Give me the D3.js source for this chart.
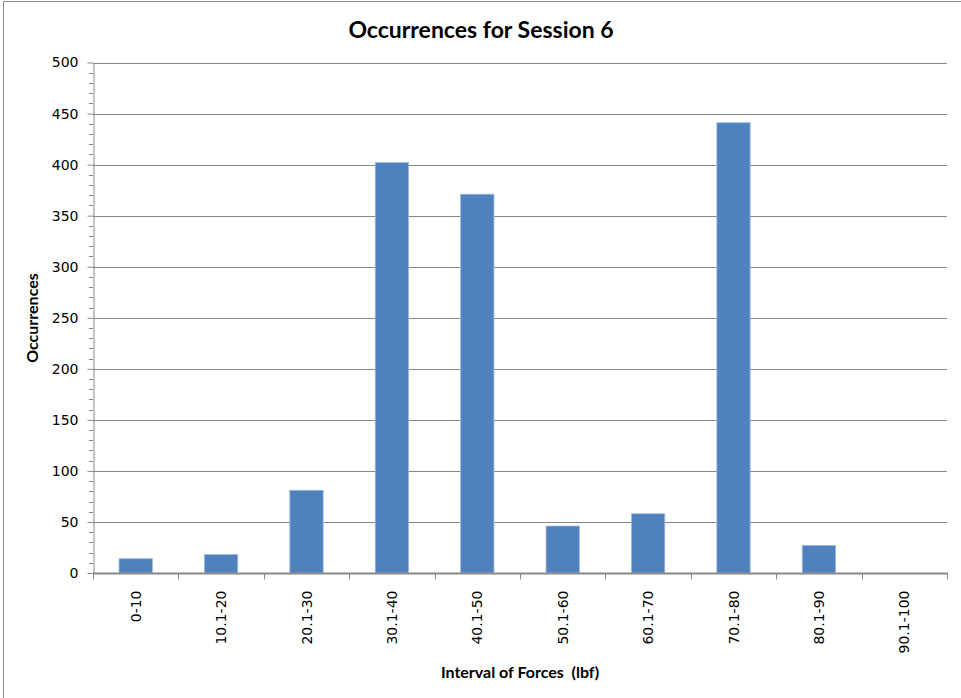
<!DOCTYPE html>
<html><head><meta charset="utf-8">
<script src="https://cdn.jsdelivr.net/npm/d3@7"></script>
<style>body{margin:0;background:#fff}svg{display:block}</style>
</head><body>
<script>
const categories = ["0-10","10.1-20","20.1-30","30.1-40","40.1-50","50.1-60","60.1-70","70.1-80","80.1-90","90.1-100"];
const occurrences = [14,18,81,402,371,46,58,441,27,0];
const yTicks = [0,50,100,150,200,250,300,350,400,450,500];
const title = "Occurrences for Session 6";
const xTitle = "Interval of Forces  (lbf)";
const yTitle = "Occurrences";

const W = 961, H = 698;
const m = {left:93, right:947, top:62.5, bottom:573};
const svg = d3.select("body").append("svg").attr("width",W).attr("height",H);
svg.append("line").attr("x1",3.5).attr("x2",W).attr("y1",1.5).attr("y2",1.5).attr("stroke","#888");
svg.append("line").attr("x1",3.5).attr("x2",3.5).attr("y1",1.5).attr("y2",H).attr("stroke","#888");

const x = d3.scaleBand().domain(categories).range([m.left,m.right]).paddingInner(0.61).paddingOuter(0.305);
const xb = d3.scaleBand().domain(categories).range([m.left,m.right]);
const y = d3.scaleLinear().domain([0,500]).range([m.bottom,m.top]);

// gridlines
svg.append("g").selectAll("line").data(yTicks.filter(d=>d>0)).join("line")
  .attr("x1",m.left).attr("x2",m.right).attr("y1",d=>Math.round(y(d))+0.5).attr("y2",d=>Math.round(y(d))+0.5)
  .attr("stroke","#878787").attr("stroke-width",1);

// minor ticks
const minor = d3.range(0,501,10).filter(d=>d%50!==0);
svg.append("g").selectAll("line").data(minor).join("line")
  .attr("x1",m.left-4).attr("x2",m.left).attr("y1",d=>Math.round(y(d))+0.5).attr("y2",d=>Math.round(y(d))+0.5)
  .attr("stroke","#878787");

// bars
svg.append("g").selectAll("rect").data(occurrences).join("rect")
  .attr("x",(d,i)=>x(categories[i])).attr("width",x.bandwidth())
  .attr("y",d=>y(d)).attr("height",d=>y(0)-y(d))
  .attr("fill","#4F81BD").attr("stroke","#9DB9DE").attr("stroke-width",0.8);

// y axis
const ya = svg.append("g").attr("transform",`translate(${m.left+0.5},0)`)
  .call(d3.axisLeft(y).tickValues(yTicks).tickSize(6).tickPadding(9).tickSizeOuter(0));
ya.select(".domain").attr("stroke","#878787");
ya.selectAll(".tick line").attr("stroke","#878787");
ya.selectAll(".tick text").attr("font-family","DejaVu Sans").attr("font-size",14).attr("fill","#000");

// x axis
const xa = svg.append("g").attr("transform",`translate(0,${m.bottom+0.5})`);
xa.append("line").attr("x1",m.left).attr("x2",m.right+1).attr("stroke","#878787").attr("stroke-width",2);
xa.selectAll("line.t").data(categories.concat(["end"])).join("line").attr("class","t")
  .attr("x1",(d,i)=>Math.round(m.left+i*xb.bandwidth())+0.5).attr("x2",(d,i)=>Math.round(m.left+i*xb.bandwidth())+0.5)
  .attr("y1",0).attr("y2",6).attr("stroke","#878787");
xa.selectAll("text").data(categories).join("text")
  .attr("transform",d=>`translate(${xb(d)+xb.bandwidth()/2+5},17) rotate(-90)`)
  .attr("text-anchor","end").attr("font-family","DejaVu Sans").attr("font-size",14).attr("fill","#000")
  .text(d=>d);

// titles
svg.append("text").attr("x",481).attr("y",38).attr("text-anchor","middle")
  .attr("font-family","Lato").attr("font-weight","bold").attr("font-size",23).text(title);
svg.append("text").attr("x",520).attr("y",678).attr("text-anchor","middle").style("white-space","pre")
  .attr("font-family","Lato").attr("font-weight","bold").attr("font-size",16).text(xTitle);
svg.append("text").attr("transform","translate(38,318) rotate(-90)").attr("text-anchor","middle")
  .attr("font-family","Lato").attr("font-weight","bold").attr("font-size",16).text(yTitle);
</script>
</body></html>
